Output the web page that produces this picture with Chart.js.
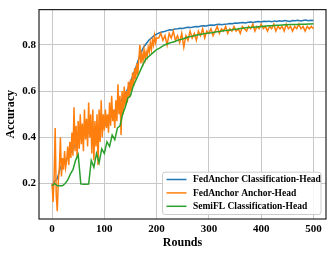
<!DOCTYPE html>
<html>
<head>
<meta charset="utf-8">
<script src="https://cdn.jsdelivr.net/npm/chart.js@4"></script>
<style>
html,body{margin:0;padding:0;background:#fff;}
#wrap{width:332px;height:254px;position:relative;}
</style>
</head>
<body>
<div id="wrap"><canvas id="c"></canvas></div>
<script>
const seriesNames = ["FedAnchor Classification-Head", "FedAnchor Anchor-Head", "SemiFL Classification-Head"];
const xTicks = [0, 100, 200, 300, 400, 500];
const yTicks = [0.2, 0.4, 0.6, 0.8];
const yTickLabels = ["0.2", "0.4", "0.6", "0.8"];

const roundsStep5 = Array.from({length: 101}, (_, i) => i * 5);
const roundsOrange = Array.from({length: 101}, (_, i) => i * 2).concat(Array.from({length: 75}, (_, i) => 204 + i * 4));

const blueValues = [
0.19,0.21,0.22,0.26,0.29,0.30,0.31,0.33,0.35,0.37,
0.39,0.40,0.41,0.415,0.42,0.42,0.425,0.43,0.435,0.44,
0.45,0.46,0.48,0.50,0.515,0.53,0.55,0.57,0.59,0.61,
0.64,0.67,0.70,0.735,0.765,0.79,0.805,0.82,0.83,0.84,
0.847,0.852,0.856,0.858,0.862,0.866,0.865,0.869,0.87,0.872,
0.871,0.874,0.876,0.875,0.878,0.88,0.879,0.882,0.883,0.882,
0.885,0.886,0.885,0.888,0.889,0.887,0.89,0.891,0.893,0.892,
0.895,0.894,0.896,0.897,0.895,0.898,0.899,0.897,0.9,0.901,
0.899,0.902,0.901,0.903,0.9,0.904,0.902,0.905,0.903,0.906,
0.904,0.902,0.906,0.905,0.907,0.904,0.906,0.908,0.905,0.907,
0.906];

const greenValues = [
0.19,0.2,0.19,0.19,0.19,0.2,0.215,0.24,0.26,0.3,
0.325,0.198,0.197,0.196,0.197,0.3,0.27,0.33,0.29,0.35,
0.33,0.38,0.36,0.41,0.39,0.44,0.45,0.5,0.53,0.57,
0.58,0.62,0.645,0.67,0.695,0.72,0.74,0.75,0.76,0.77,
0.78,0.785,0.793,0.8,0.804,0.808,0.812,0.815,0.82,0.823,
0.826,0.83,0.834,0.836,0.839,0.842,0.844,0.846,0.848,0.85,
0.852,0.853,0.855,0.857,0.858,0.86,0.862,0.863,0.865,0.866,
0.868,0.869,0.871,0.872,0.874,0.875,0.876,0.877,0.878,0.879,
0.88,0.881,0.882,0.883,0.883,0.884,0.885,0.885,0.886,0.887,
0.887,0.888,0.888,0.889,0.889,0.89,0.89,0.89,0.891,0.891,
0.892];

const orangeValues = [
0.2,0.12,0.23,0.44,0.15,0.08,0.21,0.27,0.4,0.23,
0.31,0.26,0.34,0.27,0.3,0.36,0.28,0.38,0.31,0.42,
0.32,0.53,0.34,0.45,0.31,0.47,0.35,0.5,0.37,0.46,
0.34,0.52,0.39,0.48,0.36,0.55,0.4,0.5,0.33,0.52,
0.3,0.47,0.36,0.5,0.28,0.52,0.38,0.56,0.4,0.5,
0.43,0.52,0.44,0.5,0.42,0.55,0.45,0.58,0.47,0.52,
0.44,0.56,0.47,0.63,0.5,0.58,0.41,0.6,0.5,0.62,
0.53,0.6,0.55,0.64,0.57,0.65,0.6,0.68,0.62,0.7,
0.65,0.72,0.67,0.74,0.8,0.72,0.76,0.73,0.78,0.74,
0.77,0.75,0.79,0.77,0.81,0.78,0.82,0.8,0.84,0.81,
0.83,
0.83,0.85,0.82,0.84,0.8,0.85,0.83,0.86,0.82,0.84,
0.81,0.85,0.79,0.84,0.82,0.86,0.83,0.85,0.82,0.86,
0.84,0.87,0.83,0.86,0.85,0.87,0.84,0.86,0.88,0.85,
0.87,0.86,0.88,0.85,0.87,0.86,0.88,0.86,0.87,0.85,
0.88,0.87,0.86,0.88,0.87,0.89,0.86,0.88,0.87,0.89,
0.87,0.88,0.86,0.88,0.87,0.89,0.86,0.88,0.87,0.88,
0.86,0.89,0.87,0.88,0.86,0.88,0.87,0.89,0.87,0.88,
0.86,0.88,0.87,0.88,0.87];

const colors = ["#1f77b4", "#ff7f0e", "#2ca02c"];
const FONT = "'Liberation Serif', 'Times New Roman', serif";

function pts(xs, ys) { return ys.map((y, i) => ({x: xs[i], y: y})); }

const framePlugin = {
  id: 'frame',
  afterDatasetsDraw(chart) {
    const {ctx, chartArea: a} = chart;
    ctx.save();
    ctx.strokeStyle = '#222';
    ctx.lineWidth = 1.2;
    ctx.strokeRect(a.left, a.top, a.right - a.left, a.bottom - a.top);
    // legend
    const w = 158.5, h = 42.3;
    const lx = a.right - 5 - w, ly = a.bottom - 4.5 - h;
    ctx.beginPath();
    if (ctx.roundRect) ctx.roundRect(lx, ly, w, h, 2.5); else ctx.rect(lx, ly, w, h);
    ctx.fillStyle = 'rgba(255,255,255,0.85)';
    ctx.fill();
    ctx.strokeStyle = '#cccccc';
    ctx.lineWidth = 1;
    ctx.stroke();
    ctx.font = "bold 9.5px " + FONT;
    ctx.textBaseline = 'middle';
    ctx.textAlign = 'left';
    seriesNames.forEach((name, i) => {
      const y = ly + 7.3 + i * 13.4;
      ctx.beginPath();
      ctx.moveTo(lx + 4, y);
      ctx.lineTo(lx + 24, y);
      ctx.strokeStyle = colors[i];
      ctx.lineWidth = 1.5;
      ctx.stroke();
      ctx.fillStyle = '#000';
      ctx.fillText(name, lx + 30.4, y + 0.5);
    });
    ctx.restore();
  }
};

new Chart(document.getElementById('c'), {
  type: 'line',
  data: {
    datasets: [
      {label: seriesNames[0], data: pts(roundsStep5, blueValues), borderColor: colors[0], order: 3},
      {label: seriesNames[1], data: pts(roundsOrange, orangeValues), borderColor: colors[1], order: 2},
      {label: seriesNames[2], data: pts(roundsStep5, greenValues), borderColor: colors[2], order: 1}
    ]
  },
  options: {
    responsive: true,
    maintainAspectRatio: false,
    animation: false,
    devicePixelRatio: 1,
    layout: {padding: {top: 6, right: 6, left: 0, bottom: 0}},
    elements: {
      line: {borderWidth: 1.5, tension: 0, fill: false},
      point: {radius: 0, hoverRadius: 0}
    },
    plugins: {legend: {display: false}, tooltip: {enabled: false}},
    scales: {
      x: {
        type: 'linear',
        min: -24.95, max: 523.95,
        afterBuildTicks: s => { s.ticks = xTicks.map(v => ({value: v})); },
        afterFit: s => { s.height = 35; },
        grid: {color: '#c8c8c8', lineWidth: 1, drawTicks: false},
        border: {display: false},
        ticks: {color: '#000', padding: 4, maxRotation: 0, autoSkip: false,
          font: {family: FONT, weight: 'bold', size: 11},
          callback: v => String(v)},
        title: {display: true, text: 'Rounds', color: '#000', padding: {top: 0, bottom: 4},
          font: {family: FONT, weight: 'bold', size: 12}}
      },
      y: {
        type: 'linear',
        min: 0.046, max: 0.953,
        afterBuildTicks: s => { s.ticks = yTicks.map(v => ({value: v})); },
        afterFit: s => { s.width = 39; },
        grid: {color: '#c8c8c8', lineWidth: 1, drawTicks: false},
        border: {display: false},
        ticks: {color: '#000', padding: 3, autoSkip: false,
          font: {family: FONT, weight: 'bold', size: 11},
          callback: v => { const i = yTicks.indexOf(v); return i >= 0 ? yTickLabels[i] : ''; }},
        title: {display: true, text: 'Accuracy', color: '#000', padding: {top: 4, bottom: 0},
          font: {family: FONT, weight: 'bold', size: 12}}
      }
    }
  },
  plugins: [framePlugin]
});
</script>
</body>
</html>
